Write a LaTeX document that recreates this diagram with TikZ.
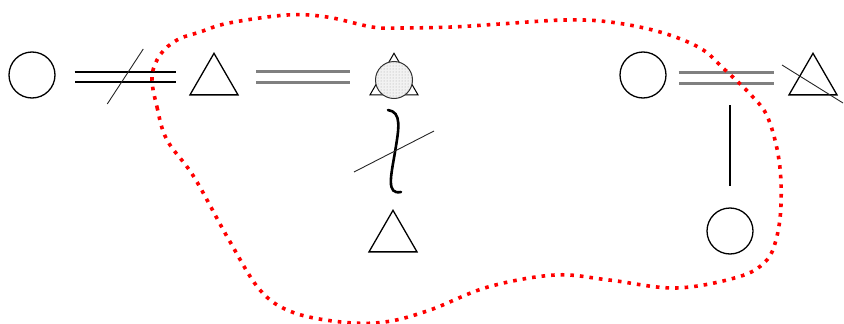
\documentclass[tikz,border=0pt]{standalone}
\usetikzlibrary{shapes.geometric,patterns,calc}
\begin{document}
\begin{tikzpicture}[x=1pt,y=-1pt,
  circ/.style={circle,draw,line width=1.3pt,minimum size=46pt,inner sep=0pt},
  tri/.style={regular polygon,regular polygon sides=3,draw,line width=1.3pt,minimum size=55.4pt,inner sep=0pt},
  blkdbl/.style={draw=black,line width=1.3pt,double=white,double distance=8.7pt},
  grydbl/.style={draw=gray,line width=3pt,double=white,double distance=8pt},
  slashline/.style={line width=0.9pt,black!85},
  squig/.style={line width=2.6pt,line cap=round},
  blob/.style={red,line width=3.6pt,dash pattern=on 3.6pt off 6pt}]
\useasboundingbox (0,0) rectangle (844,324);
% nodes
\node[circ] (c1) at (32,75) {};
\node[tri] (t1) at (214,81) {};
\node[tri,line width=1pt] (st) at (394,81) {};
\node[circle,draw=black!80,line width=1pt,minimum size=37pt,inner sep=0pt,
      preaction={fill=gray!10},pattern=dots,pattern color=gray!70] (s) at (394,80) {};
\node[tri] (t2) at (393,238) {};
\node[circ] (c2) at (643,75) {};
\node[tri] (t3) at (813,81) {};
\node[circ] (c3) at (730,231) {};
% connectors
\draw[blkdbl] ($(c1.east)+(19,2)$) -- coordinate[pos=0.5] (m1) ($(c1.east -| t1.corner 2)+(-13,2)$);
\draw[slashline] ($(m1)+(-18,27)$) -- ($(m1)+(18,-28)$);
\draw[grydbl] ($(t1.corner 3 |- c1.east)+(17,1.5)$) -- ($(s.west)+(-25.5,-3.5)$);
\coordinate (q1) at ($(s.south)+(-6,11)$);
\coordinate (q0) at (395,152);
\coordinate (q2) at ($(t2.north)+(8,-17)$);
\draw[squig] (q1) .. controls +(14,2) and +(4,-24) .. (q0) .. controls +(-4,24) and +(-15,3) .. (q2);
\draw[slashline] ($(q0)+(-41,20)$) -- ($(q0)+(39,-21)$);
\draw[grydbl] ($(c2.east)+(12,3)$) -- coordinate[pos=0.5] (m2) ($(c2.east -| t3.corner 2)+(-14,3)$);
\draw[line width=1.2pt] ($(m2 -| c3)+(0,27)$) -- ($(c3.north)+(0,-21)$);
\draw[slashline] ($(t3)+(-31,-16)$) -- ($(t3)+(30,22)$);
% blob
\draw[blob] plot[smooth cycle, tension=0.6] coordinates {
 (152,77) (157,107) (167,140) (194,177) (229,240) (260,290) (292,312) (341,322)
 (385,322) (430,310) (488,287) (555,275) (609,280) (676,288) (738,277) (765,262)
 (776,240) (781,205) (779,160) (768,118) (752,96) (723,68) (700,48) (660,32)
 (610,22) (564,20) (500,24) (452,27) (400,28) (372,27) (327,17) (287,15)
 (229,23) (200,32) (177,40) (160,55)};
\end{tikzpicture}
\end{document}
